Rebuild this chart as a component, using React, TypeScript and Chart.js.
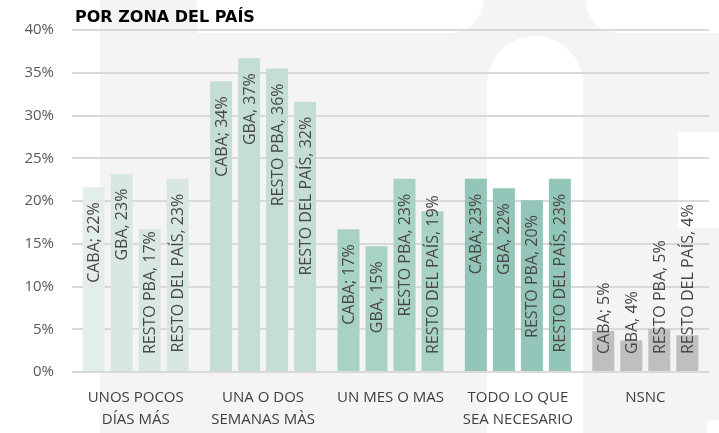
import React, { useEffect, useRef } from "react";
import { Chart, registerables } from "chart.js";

Chart.register(...registerables);

const categories: string[][] = [
  ["UNOS POCOS", "DÍAS MÁS"],
  ["UNA O DOS", "SEMANAS MÀS"],
  ["UN MES O MAS"],
  ["TODO LO QUE", "SEA NECESARIO"],
  ["NSNC"],
];

const seriesNames = ["CABA", "GBA", "RESTO PBA", "RESTO DEL PAÍS"];
const separators = [";", ",", ",", ","];

const caba = [21.6, 34.0, 16.7, 22.6, 4.8];
const gba = [23.2, 36.7, 14.7, 21.5, 3.7];
const restoPba = [16.7, 35.5, 22.6, 20.1, 5.0];
const restoPais = [22.6, 31.6, 18.8, 22.6, 4.3];

const yTicks = [0, 5, 10, 15, 20, 25, 30, 35, 40];

const groupColors = ["#d9e7e3", "#c4ddd6", "#a9d2c7", "#93c6b8", "#bfbfbf"];
const firstGroupCabaColor = "#e3eeeb";

const watermarkPlugin = {
  id: "watermark",
  beforeDraw(chart: any) {
    const ctx = chart.ctx as CanvasRenderingContext2D;
    const w = chart.width;
    const h = chart.height;
    ctx.save();
    ctx.fillStyle = "#ffffff";
    ctx.fillRect(0, 0, w, h);
    ctx.fillStyle = "#f4f4f4";
    ctx.fillRect(100, 0, w - 100, h);
    ctx.fillStyle = "#ffffff";
    ctx.beginPath();
    (ctx as any).roundRect(197, -20, 286, 53, [0, 0, 32, 0]);
    ctx.fill();
    ctx.beginPath();
    (ctx as any).roundRect(586, -20, w - 586 + 20, 53, [0, 0, 0, 32]);
    ctx.fill();
    ctx.beginPath();
    (ctx as any).roundRect(487, 36, 96, h, [48, 48, 0, 0]);
    ctx.fill();
    ctx.fillRect(678, 132, w - 678, 96);
    ctx.fillRect(707, 420, w - 707, h - 420);
    ctx.restore();
  },
};

const labelPlugin = {
  id: "barLabels",
  afterDatasetsDraw(chart: any) {
    const ctx = chart.ctx as CanvasRenderingContext2D;
    ctx.save();
    ctx.font = '16px "Open Sans"';
    ctx.fillStyle = "#484848";
    ctx.textAlign = "left";
    ctx.textBaseline = "alphabetic";
    chart.data.datasets.forEach((ds: any, di: number) => {
      const meta = chart.getDatasetMeta(di);
      meta.data.forEach((el: any, i: number) => {
        const v = ds.data[i];
        const text = `${seriesNames[di]}${separators[di]} ${Math.round(v)}%`;
        const tw = ctx.measureText(text).width;
        const top = Math.min(el.y + 15, el.base - 17 - tw);
        ctx.save();
        ctx.translate(el.x + 5.5, top + tw);
        ctx.rotate(-Math.PI / 2);
        ctx.fillText(text, 0, 0);
        ctx.restore();
      });
    });
    ctx.restore();
  },
};

const titlePlugin = {
  id: "customTitle",
  afterDraw(chart: any) {
    const ctx = chart.ctx as CanvasRenderingContext2D;
    ctx.save();
    ctx.font = 'bold 16px "DejaVu Sans"';
    ctx.fillStyle = "#000000";
    ctx.textAlign = "left";
    ctx.textBaseline = "alphabetic";
    ctx.fillText("POR ZONA DEL PAÍS", 75, 22);
    ctx.restore();
  },
};

export default function App() {
  const canvasRef = useRef<HTMLCanvasElement | null>(null);

  useEffect(() => {
    document.body.style.margin = "0";
    const canvas = canvasRef.current;
    if (!canvas) return;
    const series = [caba, gba, restoPba, restoPais];
    const chart = new Chart(canvas, {
      type: "bar",
      data: {
        labels: categories,
        datasets: series.map((d, di) => ({
          label: seriesNames[di],
          data: d,
          backgroundColor: groupColors.map((c, gi) =>
            di === 0 && gi === 0 ? firstGroupCabaColor : c
          ),
          borderWidth: 0,
          categoryPercentage: 0.879,
          barPercentage: 0.786,
        })),
      },
      options: {
        animation: false,
        responsive: false,
        maintainAspectRatio: false,
        layout: { padding: { top: 30, right: 10, left: 0, bottom: 0 } },
        plugins: {
          legend: { display: false },
          title: { display: false },
          tooltip: { enabled: false },
        },
        scales: {
          x: {
            grid: { display: false, drawTicks: false },
            border: { display: false },
            ticks: {
              color: "#404040",
              font: { family: '"Open Sans"', size: 15, lineHeight: 1.47 },
              padding: 15,
              maxRotation: 0,
              autoSkip: false,
            },
            afterFit(scale: any) {
              scale.height = 61;
            },
          },
          y: {
            min: 0,
            max: 40,
            afterBuildTicks(scale: any) {
              scale.ticks = yTicks.map((v) => ({ value: v }));
            },
            grid: {
              color: "#d9d9d9",
              lineWidth: 2,
              drawTicks: false,
            },
            border: { display: false },
            ticks: {
              color: "#595959",
              font: { family: '"Open Sans"', size: 15 },
              padding: 18,
              callback: (v: any) => `${v}%`,
            },
            afterFit(scale: any) {
              scale.width = 72;
            },
          },
        },
      },
      plugins: [watermarkPlugin, labelPlugin, titlePlugin],
    });
    return () => chart.destroy();
  }, []);

  return (
    <div style={{ position: "fixed", left: 0, top: 0, width: 719, height: 433 }}>
      <canvas ref={canvasRef} width={719} height={433} style={{ width: 719, height: 433 }} />
    </div>
  );
}
